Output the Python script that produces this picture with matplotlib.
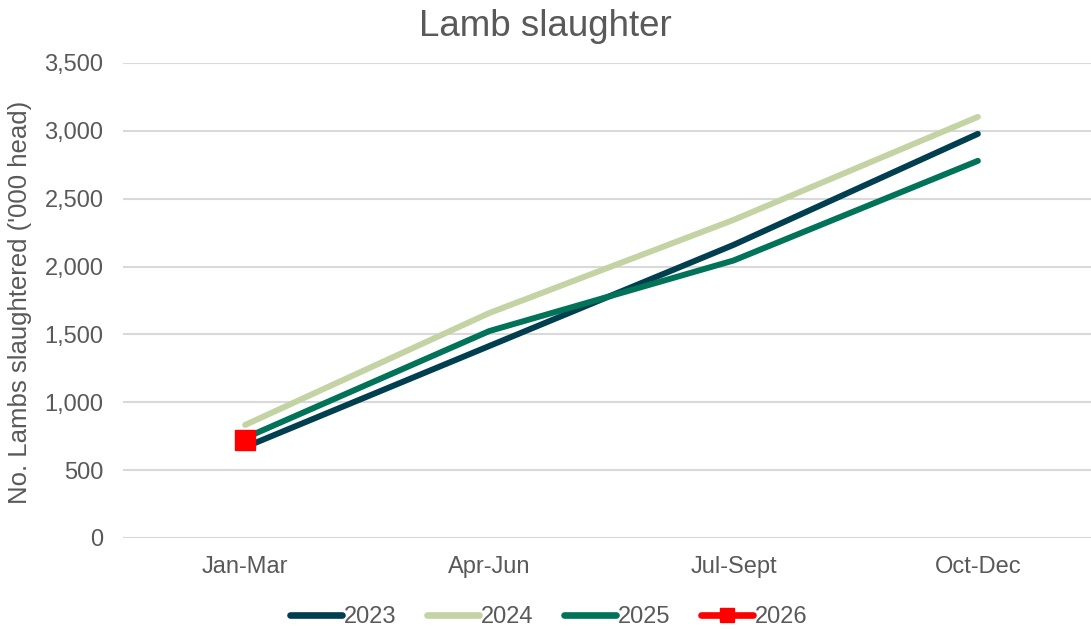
import matplotlib
matplotlib.use("Agg")
import matplotlib.pyplot as plt
from matplotlib.lines import Line2D

plt.rcParams['font.family'] = ['Liberation Sans', 'DejaVu Sans']

categories = ["Jan-Mar", "Apr-Jun", "Jul-Sept", "Oct-Dec"]
s2023 = [670, 1415, 2160, 2978]
s2024 = [833, 1658, 2344, 3103]
s2025 = [737, 1525, 2045, 2779]
s2026 = [722]
title = "Lamb slaughter"
ylabel = "No. Lambs slaughtered ('000 head)"
yticks = [0, 500, 1000, 1500, 2000, 2500, 3000, 3500]

c2023 = "#003F4F"
c2024 = "#C4D3A4"
c2025 = "#007358"
c2026 = "#FF0000"
txt = "#595959"

fig = plt.figure(figsize=(10.91, 6.29), dpi=100)
ax = fig.add_axes([123/1091, 1 - 538/629, 977/1091, 475/629])

x = list(range(len(categories)))
lw = 4.3
ax.plot(x, s2023, color=c2023, lw=lw, solid_capstyle='round', label="2023", zorder=3)
ax.plot(x, s2024, color=c2024, lw=lw, solid_capstyle='round', label="2024", zorder=3)
ax.plot(x, s2025, color=c2025, lw=lw, solid_capstyle='round', label="2025", zorder=3)
ax.plot(x[:len(s2026)], s2026, color=c2026, lw=lw, marker='s', markersize=14,
        solid_capstyle='round', label="2026", zorder=4)

ax.set_xlim(-0.5, 3.5)
ax.set_ylim(0, 3500)
ax.set_yticks(yticks)
ax.set_yticklabels([f"{v:,}" for v in yticks])
ax.set_xticks(x)
ax.set_xticklabels(categories)
ax.tick_params(axis='both', length=0, labelsize=17, colors=txt)
ax.tick_params(axis='y', pad=14)
ax.tick_params(axis='x', pad=13)
for s in ax.spines.values():
    s.set_visible(False)
ax.grid(axis='y', color='#D9D9D9', lw=1.5, zorder=0)
ax.set_axisbelow(True)

fig.text(20/1091, 1 - 302/629, ylabel, rotation=90, ha='center', va='center',
         fontsize=18.5, color=txt)
fig.text(545/1091, 1 - 26/629, title, ha='center', va='center', fontsize=26.5, color=txt)

handles = [
    Line2D([], [], color=c2023, lw=4.8, solid_capstyle='round'),
    Line2D([], [], color=c2024, lw=4.8, solid_capstyle='round'),
    Line2D([], [], color=c2025, lw=4.8, solid_capstyle='round'),
    Line2D([], [], color=c2026, lw=4.8, marker='s', markersize=10, solid_capstyle='round'),
]
leg = fig.legend(handles, ["2023", "2024", "2025", "2026"], loc='center',
                 bbox_to_anchor=(549/1091, 1 - 617/629), ncol=4, frameon=False,
                 fontsize=17, handlelength=2.2, handletextpad=0.08, columnspacing=1.3,
                 labelcolor=txt)

fig.savefig("out.png", dpi=100)
